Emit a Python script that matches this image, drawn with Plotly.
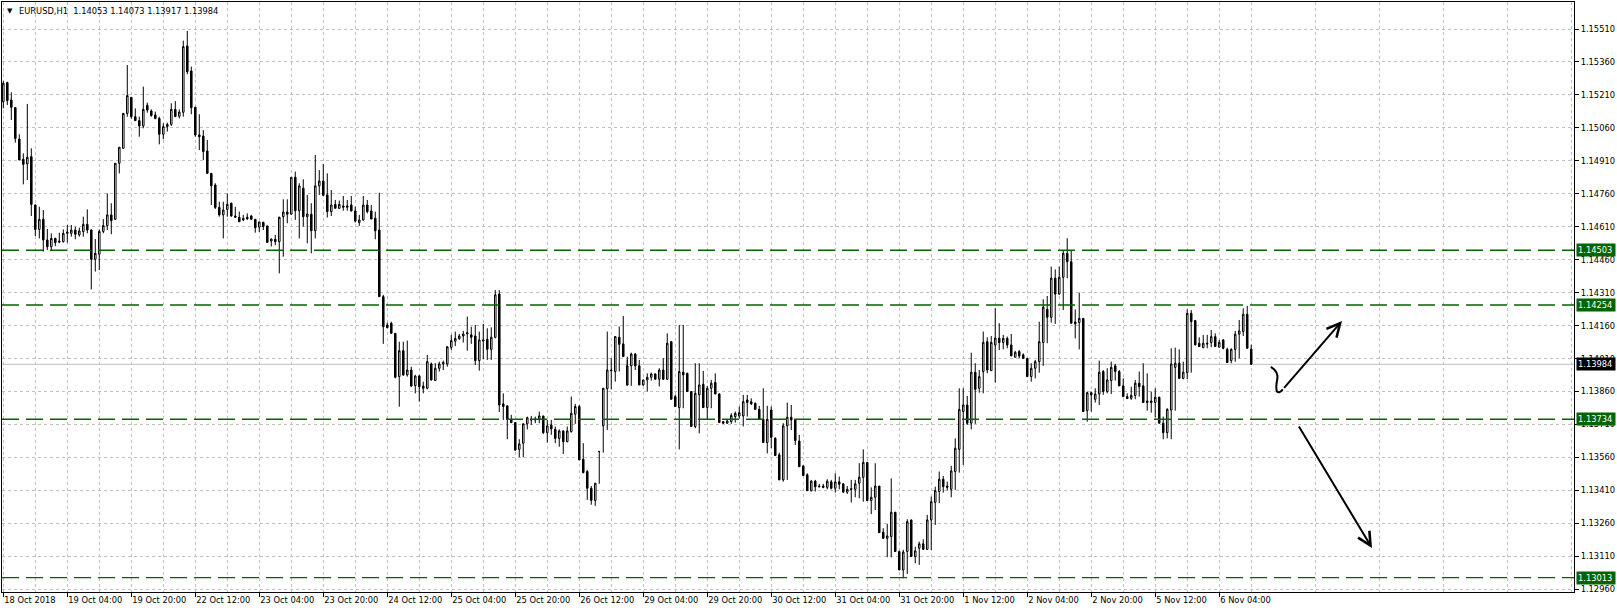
import plotly.graph_objects as go

# EURUSD H1 candles, 18 Oct 2018 12:00 .. 6 Nov 2018 12:00 (313 bars)
open_ = [1.15179, 1.15266, 1.15187, 1.15152, 1.15009, 1.14917, 1.14896, 1.14929, 1.14709, 1.14598,
         1.14644, 1.14550, 1.14519, 1.14557, 1.14545, 1.14542, 1.14580, 1.14580, 1.14595, 1.14573,
         1.14588, 1.14621, 1.14595, 1.14462, 1.14485, 1.14589, 1.14615, 1.14664, 1.14644, 1.14899,
         1.14967, 1.15126, 1.15199, 1.15111, 1.15093, 1.15069, 1.15163, 1.15137, 1.15119, 1.15103,
         1.15031, 1.15066, 1.15076, 1.15144, 1.15113, 1.15131, 1.15433, 1.15319, 1.15154, 1.15028,
         1.15023, 1.14955, 1.14853, 1.14800, 1.14698, 1.14664, 1.14689, 1.14717, 1.14659, 1.14653,
         1.14648, 1.14653, 1.14659, 1.14644, 1.14608, 1.14630, 1.14614, 1.14545, 1.14553, 1.14542,
         1.14656, 1.14677, 1.14668, 1.14835, 1.14683, 1.14785, 1.14656, 1.14667, 1.14592, 1.14796,
         1.14818, 1.14755, 1.14679, 1.14712, 1.14694, 1.14705, 1.14705, 1.14709, 1.14682, 1.14629,
         1.14641, 1.14709, 1.14682, 1.14649, 1.14595, 1.14292, 1.14163, 1.14171, 1.14125, 1.13928,
         1.14046, 1.13936, 1.13958, 1.13887, 1.13931, 1.13885, 1.13875, 1.13986, 1.13910, 1.13966,
         1.13986, 1.13986, 1.14061, 1.14089, 1.14101, 1.14113, 1.14122, 1.14118, 1.14113, 1.14001,
         1.14090, 1.14098, 1.14052, 1.14107, 1.14304, 1.13804, 1.13795, 1.13734, 1.13719, 1.13597,
         1.13625, 1.13713, 1.13734, 1.13731, 1.13734, 1.13749, 1.13673, 1.13708, 1.13688, 1.13647,
         1.13681, 1.13632, 1.13678, 1.13757, 1.13792, 1.13552, 1.13496, 1.13420, 1.13365, 1.13587,
         1.13704, 1.13873, 1.13958, 1.13951, 1.14107, 1.14077, 1.13889, 1.13977, 1.14031, 1.13977,
         1.13890, 1.13913, 1.13925, 1.13940, 1.13916, 1.13958, 1.13916, 1.14087, 1.13837, 1.13787,
         1.13948, 1.13943, 1.13860, 1.13701, 1.13845, 1.13893, 1.13787, 1.13875, 1.13902, 1.13849,
         1.13723, 1.13716, 1.13723, 1.13746, 1.13749, 1.13749, 1.13822, 1.13814, 1.13807, 1.13779,
         1.13734, 1.13628, 1.13776, 1.13647, 1.13572, 1.13458, 1.13704, 1.13743, 1.13731, 1.13635,
         1.13522, 1.13481, 1.13409, 1.13452, 1.13430, 1.13430, 1.13424, 1.13449, 1.13420, 1.13449,
         1.13440, 1.13402, 1.13418, 1.13415, 1.13443, 1.13470, 1.13538, 1.13364, 1.13379, 1.13430,
         1.13220, 1.13192, 1.13200, 1.13311, 1.13132, 1.13048, 1.13132, 1.13276, 1.13109, 1.13147,
         1.13167, 1.13142, 1.13276, 1.13356, 1.13405, 1.13461, 1.13430, 1.13415, 1.13496, 1.13597,
         1.13769, 1.13799, 1.13716, 1.13948, 1.13875, 1.13951, 1.14087, 1.13955, 1.14072, 1.14103,
         1.14083, 1.14102, 1.14072, 1.14016, 1.14042, 1.14027, 1.14011, 1.13928, 1.13966, 1.13996,
         1.14083, 1.14234, 1.14198, 1.14376, 1.14304, 1.14380, 1.14489, 1.14451, 1.14177, 1.14174,
         1.14193, 1.13773, 1.13855, 1.13825, 1.13849, 1.13951, 1.13860, 1.13910, 1.13977, 1.13951,
         1.13886, 1.13837, 1.13829, 1.13842, 1.13898, 1.13886, 1.13817, 1.13817, 1.13810, 1.13834,
         1.13716, 1.13673, 1.13776, 1.13970, 1.13989, 1.13920, 1.13946, 1.14216, 1.14183, 1.14080,
         1.14060, 1.14080, 1.14083, 1.14110, 1.14062, 1.14095, 1.14052, 1.14001, 1.14052, 1.14121,
         1.14133, 1.14212, 1.14053]
high = [1.15273, 1.15270, 1.15222, 1.15155, 1.15031, 1.14944, 1.15169, 1.14967, 1.14712, 1.14701,
        1.14686, 1.14600, 1.14580, 1.14560, 1.14583, 1.14598, 1.14618, 1.14618, 1.14610, 1.14606,
        1.14656, 1.14689, 1.14598, 1.14554, 1.14598, 1.14645, 1.14762, 1.14717, 1.14899, 1.14972,
        1.15126, 1.15346, 1.15199, 1.15149, 1.15111, 1.15248, 1.15175, 1.15144, 1.15134, 1.15111,
        1.15081, 1.15084, 1.15172, 1.15182, 1.15144, 1.15457, 1.15501, 1.15339, 1.15154, 1.15122,
        1.15050, 1.15005, 1.14853, 1.14808, 1.14724, 1.14724, 1.14762, 1.14720, 1.14701, 1.14679,
        1.14664, 1.14671, 1.14664, 1.14644, 1.14632, 1.14633, 1.14614, 1.14557, 1.14573, 1.14656,
        1.14735, 1.14735, 1.14835, 1.14861, 1.14808, 1.14826, 1.14755, 1.14717, 1.14937, 1.14868,
        1.14896, 1.14853, 1.14777, 1.14732, 1.14729, 1.14750, 1.14732, 1.14750, 1.14702, 1.14664,
        1.14750, 1.14732, 1.14709, 1.14679, 1.14765, 1.14300, 1.14174, 1.14178, 1.14125, 1.14087,
        1.14087, 1.14092, 1.13973, 1.13936, 1.13936, 1.13905, 1.14027, 1.13992, 1.13989, 1.13996,
        1.14001, 1.14067, 1.14118, 1.14133, 1.14122, 1.14136, 1.14201, 1.14155, 1.14163, 1.14133,
        1.14168, 1.14148, 1.14152, 1.14322, 1.14322, 1.13852, 1.13795, 1.13754, 1.13719, 1.13643,
        1.13716, 1.13746, 1.13749, 1.13746, 1.13769, 1.13749, 1.13731, 1.13731, 1.13701, 1.13688,
        1.13683, 1.13701, 1.13837, 1.13804, 1.13799, 1.13625, 1.13503, 1.13430, 1.13443, 1.13590,
        1.13875, 1.14133, 1.14012, 1.14113, 1.14156, 1.14204, 1.14019, 1.14037, 1.14034, 1.14004,
        1.13913, 1.13943, 1.13946, 1.13943, 1.13966, 1.14012, 1.14125, 1.14087, 1.13845, 1.14163,
        1.14163, 1.13946, 1.13860, 1.13989, 1.13989, 1.13954, 1.13886, 1.13913, 1.13943, 1.13852,
        1.13723, 1.13734, 1.13761, 1.13769, 1.13792, 1.13845, 1.13845, 1.13829, 1.13810, 1.13795,
        1.13875, 1.13795, 1.13792, 1.13647, 1.13582, 1.13716, 1.13810, 1.13799, 1.13734, 1.13663,
        1.13522, 1.13488, 1.13458, 1.13458, 1.13440, 1.13440, 1.13461, 1.13458, 1.13488, 1.13473,
        1.13443, 1.13430, 1.13458, 1.13458, 1.13534, 1.13597, 1.13538, 1.13424, 1.13534, 1.13430,
        1.13238, 1.13258, 1.13465, 1.13311, 1.13136, 1.13140, 1.13279, 1.13276, 1.13154, 1.13177,
        1.13188, 1.13299, 1.13382, 1.13427, 1.13496, 1.13476, 1.13450, 1.13522, 1.13647, 1.13875,
        1.13875, 1.13840, 1.14037, 1.13989, 1.13958, 1.14133, 1.14107, 1.14113, 1.14239, 1.14171,
        1.14118, 1.14110, 1.14122, 1.14045, 1.14049, 1.14034, 1.14011, 1.13989, 1.14004, 1.14178,
        1.14280, 1.14295, 1.14429, 1.14416, 1.14429, 1.14501, 1.14558, 1.14504, 1.14234, 1.14310,
        1.14193, 1.13860, 1.13860, 1.13875, 1.14001, 1.13958, 1.13966, 1.13996, 1.13986, 1.13958,
        1.13920, 1.13852, 1.13882, 1.13913, 1.13951, 1.13989, 1.13943, 1.13860, 1.13875, 1.13837,
        1.13746, 1.13784, 1.14057, 1.14060, 1.14052, 1.13996, 1.14234, 1.14231, 1.14186, 1.14107,
        1.14118, 1.14118, 1.14140, 1.14125, 1.14095, 1.14098, 1.14060, 1.14057, 1.14136, 1.14186,
        1.14239, 1.14250, 1.14073]
low = [1.15149, 1.15164, 1.15096, 1.14993, 1.14914, 1.14803, 1.14823, 1.14659, 1.14568, 1.14557,
       1.14497, 1.14504, 1.14504, 1.14522, 1.14535, 1.14538, 1.14538, 1.14565, 1.14553, 1.14565,
       1.14565, 1.14580, 1.14325, 1.14406, 1.14413, 1.14580, 1.14595, 1.14576, 1.14641, 1.14853,
       1.14967, 1.15111, 1.15102, 1.15093, 1.15020, 1.15058, 1.15129, 1.15111, 1.15099, 1.14985,
       1.15008, 1.15043, 1.15069, 1.15111, 1.15103, 1.15111, 1.15304, 1.15122, 1.15020, 1.14959,
       1.14914, 1.14853, 1.14709, 1.14691, 1.14656, 1.14557, 1.14656, 1.14656, 1.14653, 1.14633,
       1.14636, 1.14641, 1.14641, 1.14583, 1.14586, 1.14595, 1.14538, 1.14520, 1.14526, 1.14398,
       1.14474, 1.14626, 1.14664, 1.14641, 1.14557, 1.14611, 1.14535, 1.14489, 1.14557, 1.14755,
       1.14750, 1.14652, 1.14659, 1.14694, 1.14691, 1.14683, 1.14683, 1.14679, 1.14629, 1.14614,
       1.14638, 1.14671, 1.14645, 1.14553, 1.14292, 1.14077, 1.14148, 1.14125, 1.13920, 1.13791,
       1.13931, 1.13928, 1.13882, 1.13852, 1.13814, 1.13852, 1.13870, 1.13910, 1.13910, 1.13951,
       1.13958, 1.13973, 1.14049, 1.14067, 1.14095, 1.14083, 1.14046, 1.14077, 1.13981, 1.13955,
       1.14007, 1.14004, 1.14004, 1.14102, 1.13767, 1.13731, 1.13643, 1.13716, 1.13590, 1.13561,
       1.13561, 1.13688, 1.13708, 1.13716, 1.13716, 1.13667, 1.13628, 1.13663, 1.13625, 1.13609,
       1.13576, 1.13629, 1.13673, 1.13713, 1.13549, 1.13488, 1.13367, 1.13345, 1.13340, 1.13440,
       1.13582, 1.13685, 1.13870, 1.13905, 1.13951, 1.14072, 1.14004, 1.13886, 1.13958, 1.13971,
       1.13886, 1.13860, 1.13910, 1.13920, 1.13883, 1.13913, 1.13913, 1.13913, 1.13822, 1.13597,
       1.13784, 1.13931, 1.13845, 1.13693, 1.13670, 1.13845, 1.13734, 1.13784, 1.13867, 1.13845,
       1.13713, 1.13713, 1.13713, 1.13719, 1.13738, 1.13701, 1.13746, 1.13799, 1.13795, 1.13764,
       1.13731, 1.13579, 1.13602, 1.13652, 1.13506, 1.13450, 1.13458, 1.13685, 1.13617, 1.13602,
       1.13518, 1.13458, 1.13405, 1.13405, 1.13424, 1.13420, 1.13415, 1.13415, 1.13400, 1.13415,
       1.13430, 1.13394, 1.13355, 1.13379, 1.13374, 1.13359, 1.13465, 1.13302, 1.13321, 1.13367,
       1.13208, 1.13106, 1.13106, 1.13192, 1.13086, 1.13010, 1.13030, 1.13124, 1.13078, 1.13071,
       1.13139, 1.13139, 1.13139, 1.13253, 1.13352, 1.13400, 1.13409, 1.13379, 1.13412, 1.13491,
       1.13526, 1.13708, 1.13688, 1.13713, 1.13855, 1.13852, 1.13943, 1.13955, 1.13901, 1.14049,
       1.14052, 1.14057, 1.14057, 1.14016, 1.14011, 1.14016, 1.14007, 1.13905, 1.13920, 1.13946,
       1.13977, 1.14080, 1.14174, 1.14168, 1.14300, 1.14231, 1.14376, 1.14444, 1.14102, 1.14052,
       1.14148, 1.13723, 1.13769, 1.13810, 1.13799, 1.13845, 1.13852, 1.13849, 1.13910, 1.13925,
       1.13849, 1.13834, 1.13822, 1.13825, 1.13837, 1.13879, 1.13773, 1.13764, 1.13743, 1.13761,
       1.13643, 1.13647, 1.13643, 1.13773, 1.13970, 1.13916, 1.13916, 1.13946, 1.14128, 1.14072,
       1.14057, 1.14057, 1.14062, 1.14077, 1.14062, 1.14052, 1.14046, 1.13989, 1.13996, 1.14011,
       1.14113, 1.14083, 1.14049, 1.13917]
close = [1.15263, 1.15184, 1.15154, 1.15012, 1.14914, 1.14894, 1.14926, 1.14712, 1.14598, 1.14644,
         1.14550, 1.14519, 1.14557, 1.14538, 1.14541, 1.14580, 1.14586, 1.14595, 1.14576, 1.14591,
         1.14621, 1.14595, 1.14462, 1.14489, 1.14589, 1.14615, 1.14664, 1.14638, 1.14899, 1.14972,
         1.15126, 1.15207, 1.15111, 1.15093, 1.15069, 1.15144, 1.15141, 1.15116, 1.15103, 1.15031,
         1.15066, 1.15076, 1.15144, 1.15111, 1.15132, 1.15430, 1.15316, 1.15152, 1.15028, 1.15020,
         1.14952, 1.14853, 1.14797, 1.14698, 1.14664, 1.14686, 1.14712, 1.14659, 1.14653, 1.14633,
         1.14641, 1.14647, 1.14644, 1.14606, 1.14632, 1.14611, 1.14539, 1.14554, 1.14542, 1.14653,
         1.14677, 1.14667, 1.14835, 1.14683, 1.14796, 1.14656, 1.14668, 1.14592, 1.14796, 1.14818,
         1.14753, 1.14679, 1.14709, 1.14694, 1.14712, 1.14699, 1.14699, 1.14682, 1.14636, 1.14641,
         1.14709, 1.14679, 1.14645, 1.14592, 1.14292, 1.14155, 1.14151, 1.14125, 1.13925, 1.14046,
         1.13936, 1.13958, 1.13885, 1.13931, 1.13882, 1.13875, 1.13996, 1.13913, 1.13966, 1.13986,
         1.13992, 1.14064, 1.14092, 1.14102, 1.14113, 1.14122, 1.14128, 1.14107, 1.14001, 1.14095,
         1.14095, 1.14052, 1.14107, 1.14300, 1.13799, 1.13792, 1.13734, 1.13719, 1.13594, 1.13622,
         1.13713, 1.13741, 1.13731, 1.13734, 1.13749, 1.13673, 1.13704, 1.13690, 1.13647, 1.13681,
         1.13632, 1.13681, 1.13761, 1.13792, 1.13549, 1.13491, 1.13420, 1.13365, 1.13443, 1.13587,
         1.13875, 1.13958, 1.13955, 1.14110, 1.14075, 1.14019, 1.13977, 1.14031, 1.13977, 1.13890,
         1.13913, 1.13925, 1.13940, 1.13916, 1.13958, 1.13916, 1.14080, 1.13825, 1.13792, 1.13951,
         1.13936, 1.13860, 1.13701, 1.13852, 1.13890, 1.13787, 1.13875, 1.13898, 1.13849, 1.13719,
         1.13716, 1.13726, 1.13751, 1.13761, 1.13764, 1.13814, 1.13810, 1.13804, 1.13779, 1.13734,
         1.13628, 1.13734, 1.13652, 1.13569, 1.13458, 1.13704, 1.13743, 1.13731, 1.13637, 1.13518,
         1.13478, 1.13409, 1.13452, 1.13427, 1.13427, 1.13424, 1.13452, 1.13420, 1.13449, 1.13438,
         1.13402, 1.13415, 1.13415, 1.13440, 1.13470, 1.13538, 1.13364, 1.13379, 1.13430, 1.13218,
         1.13192, 1.13203, 1.13311, 1.13132, 1.13048, 1.13130, 1.13268, 1.13109, 1.13135, 1.13167,
         1.13142, 1.13276, 1.13359, 1.13409, 1.13461, 1.13427, 1.13424, 1.13499, 1.13602, 1.13779,
         1.13799, 1.13716, 1.13948, 1.13870, 1.13928, 1.14084, 1.13958, 1.14084, 1.14103, 1.14083,
         1.14102, 1.14072, 1.14022, 1.14039, 1.14022, 1.14011, 1.13928, 1.13966, 1.13996, 1.14087,
         1.14244, 1.14198, 1.14376, 1.14304, 1.14380, 1.14489, 1.14451, 1.14171, 1.14168, 1.14193,
         1.13769, 1.13855, 1.13845, 1.13849, 1.13948, 1.13860, 1.13913, 1.13970, 1.13951, 1.13886,
         1.13837, 1.13828, 1.13842, 1.13898, 1.13882, 1.13810, 1.13810, 1.13810, 1.13834, 1.13716,
         1.13673, 1.13779, 1.13986, 1.13989, 1.13920, 1.13948, 1.14216, 1.14178, 1.14072, 1.14065,
         1.14080, 1.14077, 1.14110, 1.14065, 1.14084, 1.14057, 1.13992, 1.14052, 1.14121, 1.14136,
         1.14212, 1.14057, 1.13984]

time_labels = ["18 Oct 2018", "19 Oct 04:00", "19 Oct 20:00", "22 Oct 12:00", "23 Oct 04:00",
               "23 Oct 20:00", "24 Oct 12:00", "25 Oct 04:00", "25 Oct 20:00", "26 Oct 12:00",
               "29 Oct 04:00", "29 Oct 20:00", "30 Oct 12:00", "31 Oct 04:00", "31 Oct 20:00",
               "1 Nov 12:00", "2 Nov 04:00", "2 Nov 20:00", "5 Nov 12:00", "6 Nov 04:00"]
price_ticks = [1.15510, 1.15360, 1.15210, 1.15060, 1.14910, 1.14760, 1.14610, 1.14460, 1.14310,
               1.14160, 1.14010, 1.13860, 1.13710, 1.13560, 1.13410, 1.13260, 1.13110, 1.12960]
levels = [1.14503, 1.14254, 1.13734, 1.13013]
bid = 1.13984

n = len(close)
bars = list(range(n))
FONT = "DejaVu Sans"
GREEN = "#006400"

fig = go.Figure(go.Candlestick(
    x=bars, open=open_, high=high, low=low, close=close,
    increasing=dict(line=dict(color="black", width=1), fillcolor="white"),
    decreasing=dict(line=dict(color="black", width=1), fillcolor="black"),
    whiskerwidth=0, hoverinfo="skip",
))

shapes = []
for lv in levels:
    shapes.append(dict(type="line", xref="paper", x0=0, x1=1, yref="y", y0=lv, y1=lv,
                       line=dict(color=GREEN, width=1.3, dash="17px,7px"), layer="above"))
shapes.append(dict(type="line", xref="paper", x0=0, x1=1, yref="y", y0=bid, y1=bid,
                   line=dict(color="#c0c0c0", width=1), layer="below"))

# hand-drawn hook in front of the upper arrow
shapes.append(dict(type="path", xref="x", yref="y",
                   path="M 316.9,1.13972 Q 318.9,1.13950 318.5,1.13915 T 318.4,1.13862 Q 318.9,1.13848 319.9,1.13870",
                   line=dict(color="black", width=2)))

annotations = [
    dict(xref="paper", yref="paper", x=0, y=1, xanchor="left", yanchor="top",
         xshift=3, yshift=-3, showarrow=False, text="▼",
         font=dict(family=FONT, size=7, color="black")),
    dict(xref="paper", yref="paper", x=0, y=1, xanchor="left", yanchor="top",
         xshift=15, yshift=-2, showarrow=False,
         text="EURUSD,H1  1.14053 1.14073 1.13917 1.13984",
         font=dict(family=FONT, size=8.3, color="black")),
    # upper arrow
    dict(xref="x", yref="y", axref="x", ayref="y", x=334.7, y=1.14181, ax=319.9, ay=1.13870,
         showarrow=True, arrowhead=5, arrowsize=1.3, arrowwidth=2, arrowcolor="black", text=""),
    # lower arrow
    dict(xref="x", yref="y", axref="x", ayref="y", x=342.2, y=1.13148, ax=323.7, ay=1.13708,
         showarrow=True, arrowhead=5, arrowsize=1.3, arrowwidth=2, arrowcolor="black", text=""),
]
for lv in levels:
    annotations.append(dict(xref="paper", yref="y", x=1, y=lv, xanchor="left", yanchor="middle",
                            xshift=2, showarrow=False, text=f"{lv:.5f}", bgcolor=GREEN,
                            borderpad=1, width=36, align="left",
                            font=dict(family=FONT, size=8.3, color="white")))
annotations.append(dict(xref="paper", yref="y", x=1, y=bid, xanchor="left", yanchor="middle",
                        xshift=2, showarrow=False, text=f"{bid:.5f}", bgcolor="black",
                        borderpad=1, width=36, align="left",
                        font=dict(family=FONT, size=8.3, color="white")))

fig.update_layout(
    width=1617, height=613,
    margin=dict(l=2, r=43, t=2, b=21, autoexpand=False),
    paper_bgcolor="white", plot_bgcolor="white",
    showlegend=False, boxgap=0.45,
    font=dict(family=FONT, size=8.3, color="black"),
    shapes=shapes, annotations=annotations,
    xaxis=dict(
        range=[-0.325, 392.7], rangeslider=dict(visible=False),
        tickmode="array", tickvals=list(range(0, n, 16)), ticktext=time_labels,
        ticks="outside", ticklen=4, tickcolor="black", ticklabelposition="outside right",
        showgrid=True, gridcolor="#c0c0c0", griddash="3px,3px", gridwidth=1,
        minor=dict(tickmode="linear", tick0=8, dtick=16, showgrid=True,
                   gridcolor="#c0c0c0", griddash="3px,3px", gridwidth=1),
        showline=True, linecolor="black", linewidth=1, mirror=True,
        zeroline=False, fixedrange=True,
    ),
    yaxis=dict(
        side="right", range=[1.129478, 1.156329],
        tickmode="array", tickvals=price_ticks, ticktext=[f"{p:.5f}" for p in price_ticks],
        ticks="outside", ticklen=4, tickcolor="black",
        showgrid=True, gridcolor="#c0c0c0", griddash="3px,3px", gridwidth=1,
        showline=True, linecolor="black", linewidth=1, mirror=True,
        zeroline=False, fixedrange=True,
    ),
)

# the page's default body margin would push the 1617x613 figure off the window
fig.write_html("out.html", config={"displayModeBar": False},
               post_script="document.body.style.margin='0';document.body.style.overflow='hidden';")
